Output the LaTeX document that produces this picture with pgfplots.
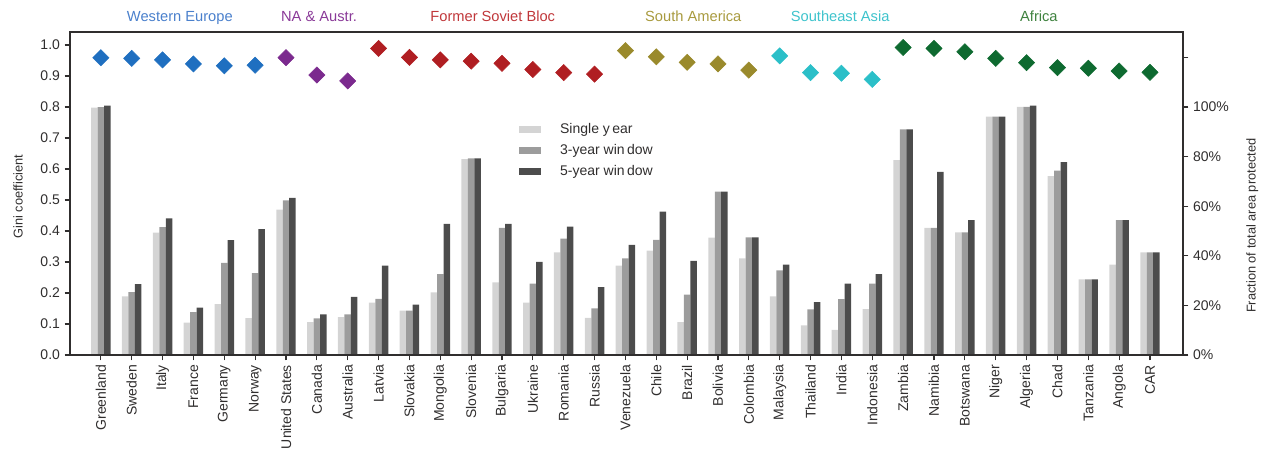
\documentclass[border=0pt]{standalone}
\usepackage{fontspec}
\setmainfont{Liberation Sans}
\usepackage{pgfplots}
\usepackage{pgfplotstable}
\pgfplotsset{compat=1.18}

\definecolor{txt}{HTML}{302E2E}
\definecolor{we}{HTML}{1F6FC0}
\definecolor{na}{HTML}{7B2A8E}
\definecolor{fsb}{HTML}{B01E22}
\definecolor{sa}{HTML}{9A8A2C}
\definecolor{sea}{HTML}{2BBFC8}
\definecolor{af}{HTML}{0E6A30}
\definecolor{welab}{HTML}{4A80CC}
\definecolor{nalab}{HTML}{8A3A98}
\definecolor{fsblab}{HTML}{C0373A}
\definecolor{salab}{HTML}{A89A3E}
\definecolor{sealab}{HTML}{3EC3CC}
\definecolor{aflab}{HTML}{3F823F}
\definecolor{b1}{HTML}{D4D4D4}
\definecolor{b3}{HTML}{9C9C9C}
\definecolor{b5}{HTML}{4C4C4C}

% fraction of total area protected, %
\pgfplotstableread{
x s1 s3 s5
0 99.8 100.0 100.6
1 23.6 25.4 28.6
2 49.3 51.6 55.1
3 13.1 17.3 19.1
4 20.5 37.1 46.3
5 14.9 33.0 50.8
6 58.6 62.4 63.4
7 13.3 14.8 16.4
8 15.3 16.4 23.4
9 21.1 22.6 36.0
10 17.9 17.9 20.3
11 25.3 32.6 52.9
12 79.0 79.3 79.3
13 29.3 51.3 52.9
14 21.1 28.8 37.6
15 41.4 46.9 51.8
16 15.0 18.8 27.4
17 36.0 39.0 44.4
18 42.1 46.4 57.8
19 13.3 24.3 38.0
20 47.3 65.9 65.9
21 39.0 47.4 47.4
22 23.6 34.1 36.4
23 11.9 18.4 21.3
24 10.1 22.5 28.8
25 18.5 28.8 32.6
26 78.6 91.0 91.0
27 51.3 51.3 73.8
28 49.4 49.4 54.4
29 96.1 96.1 96.1
30 100.1 100.1 100.6
31 72.1 74.3 77.8
32 30.5 30.5 30.5
33 36.4 54.4 54.4
34 41.4 41.4 41.4
}\bars

% Gini coefficient
\pgfplotstableread{
x g
0 0.959
1 0.957
2 0.952
3 0.939
4 0.933
5 0.935
6 0.959
7 0.903
8 0.884
9 0.989
10 0.960
11 0.952
12 0.948
13 0.941
14 0.921
15 0.911
16 0.906
17 0.982
18 0.962
19 0.944
20 0.939
21 0.919
22 0.965
23 0.911
24 0.909
25 0.889
26 0.992
27 0.989
28 0.978
29 0.957
30 0.943
31 0.927
32 0.925
33 0.916
34 0.912
}\gini

\begin{document}
\begin{tikzpicture}
\pgfplotsset{
  base/.style={
    width=834.75pt, height=242.25pt, scale only axis,
    xmin=-1, xmax=35.07,
    axis line style={line width=1.1pt, color=txt},
    tick style={line width=0.8pt, color=txt},
    tick align=outside, major tick length=4pt,
    tick label style={font=\fontsize{10.5}{12}\selectfont, text=txt},
    /pgf/number format/assume math mode=true,
  },
  gem/.style={only marks, mark=square*, mark size=4.3pt,
    mark options={rotate=45, fill=#1, draw=#1}},
}
\begin{axis}[base, ymin=0, ymax=130.25,
    axis x line=none, axis y line*=right,
    ytick={0,20,40,60,80,100,120},
    yticklabels={0\%,20\%,40\%,60\%,80\%,100\%,{}},
    legend style={at={(0.40,0.735)}, anchor=north west, draw=none, fill=none,
      font=\fontsize{10.5}{12}\selectfont, text=txt, row sep=2.2pt,
      nodes={inner sep=1.5pt, text height=8pt, text depth=2.5pt}},
    legend cell align=left,
    legend image code/.code={\fill[#1, draw=none] (0pt,-2.6pt) rectangle (16.5pt,2.6pt);
      \path[draw=none, fill=none] (29pt,-1pt) rectangle (29pt,1pt);}]
\addplot[ybar, bar width=0.21, bar shift=-0.21, fill=b1, draw=none] table[x=x, y=s1]{\bars};
\addplot[ybar, bar width=0.21, bar shift=0, fill=b3, draw=none] table[x=x, y=s3]{\bars};
\addplot[ybar, bar width=0.21, bar shift=0.21, fill=b5, draw=none] table[x=x, y=s5]{\bars};
\legend{Single y\,ear, 3-year win\,dow, 5-year win\,dow}
\end{axis}
\begin{axis}[base, ymin=0, ymax=1.042, clip=false,
    ytick={0,0.1,0.2,0.3,0.4,0.5,0.6,0.7,0.8,0.9,1.0}, ytick pos=left,
    yticklabel style={/pgf/number format/.cd, fixed, fixed zerofill, precision=1},
    xtick={0,...,34}, xtick pos=left,
    xticklabels={Greenland,Sweden,Italy,France,Germany,Norway,United States,Canada,Australia,
      Latvia,Slovakia,Mongolia,Slovenia,Bulgaria,Ukraine,Romania,Russia,
      Venezuela,Chile,Brazil,Bolivia,Colombia,Malaysia,Thailand,India,Indonesia,
      Zambia,Namibia,Botswana,Niger,Algeria,Chad,Tanzania,Angola,CAR},
    xticklabel style={rotate=90, anchor=east, font=\fontsize{10.5}{12}\selectfont}]
\addplot[gem=we, restrict x to domain=0:5] table[x=x, y=g]{\gini};
\addplot[gem=na, restrict x to domain=6:8] table[x=x, y=g]{\gini};
\addplot[gem=fsb, restrict x to domain=9:16] table[x=x, y=g]{\gini};
\addplot[gem=sa, restrict x to domain=17:21] table[x=x, y=g]{\gini};
\addplot[gem=sea, restrict x to domain=22:25] table[x=x, y=g]{\gini};
\addplot[gem=af, restrict x to domain=26:34] table[x=x, y=g]{\gini};
\begin{scope}[every node/.style={anchor=base, font=\fontsize{11}{13}\selectfont, yshift=7.5pt}]
\node[text=welab] at (axis cs:2.56,1.042) {Western Europe};
\node[text=nalab] at (axis cs:7.07,1.042) {NA \& Austr.};
\node[text=fsblab] at (axis cs:12.7,1.042) {Former Soviet Bloc};
\node[text=salab] at (axis cs:19.2,1.042) {South America};
\node[text=sealab] at (axis cs:23.96,1.042) {Southeast Asia};
\node[text=aflab] at (axis cs:30.4,1.042) {Africa};
\end{scope}
\coordinate (bl) at (rel axis cs:0,0);
\coordinate (tr) at (rel axis cs:1,1);
\coordinate (yl) at (rel axis cs:0,0.49);
\coordinate (yr) at (rel axis cs:1,0.40);
\end{axis}
\node[rotate=90, text=txt, font=\fontsize{9.6}{11}\selectfont] at ([xshift=-39pt]yl) {Gini coefficient};
\node[rotate=90, text=txt, font=\fontsize{9.6}{11}\selectfont] at ([xshift=52pt]yr) {Fraction of total area protected};
\pgfresetboundingbox
\path ([shift={(-52.5pt,-78pt)}]bl) rectangle ([shift={(64.5pt,24pt)}]tr);
\end{tikzpicture}
\end{document}
